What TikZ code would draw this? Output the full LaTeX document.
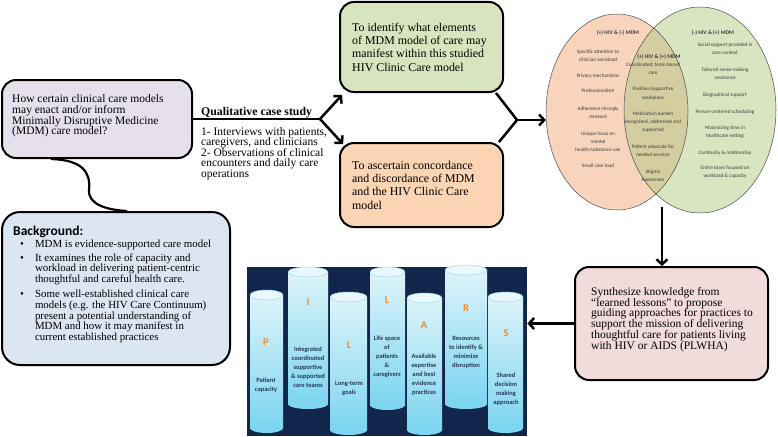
\documentclass[tikz,border=0pt]{standalone}
\usepackage{fontspec}
\setmainfont{Liberation Serif}
\newfontfamily\calib{Carlito}
\usetikzlibrary{arrows.meta,calc,shapes.geometric}
\definecolor{qfill}{HTML}{E5E0EC}
\definecolor{bgfill}{HTML}{DCE6F2}
\definecolor{gfill}{HTML}{D7E4BD}
\definecolor{ofill}{HTML}{FBD4B4}
\definecolor{sfill}{HTML}{F2DCDB}
\definecolor{vleft}{HTML}{F8D4BC}
\definecolor{vright}{HTML}{D8E5C0}
\definecolor{vmid}{HTML}{D3CDA0}
\definecolor{vtext}{HTML}{3C3C3C}
\definecolor{navy}{HTML}{11264A}
\definecolor{piltop}{HTML}{DDF4FA}
\definecolor{pilbot}{HTML}{7DD5EF}
\definecolor{pilcap}{HTML}{E9F8FC}
\definecolor{piledge}{HTML}{9ED8EA}
\definecolor{pilletter}{HTML}{EE8E2C}
\definecolor{piltext}{HTML}{243A57}
\begin{document}
\begin{tikzpicture}[x=1pt,y=-1pt,
  box/.style={draw=black, line width=2pt, rounded corners=14pt, inner sep=0pt},
  txt/.style={anchor=west, align=left, inner sep=0pt, font=\fontsize{11.5}{10.8}\selectfont},
  gtxt/.style={anchor=west, align=left, inner sep=0pt, font=\fontsize{11.9}{13.3}\selectfont},
  conn/.style={line width=2.5pt},
  arr/.style={line width=2.5pt, -{Straight Barb[length=5pt,width=11pt]}},
  vt/.style={align=center, inner sep=0pt, text=vtext, font=\calib\fontsize{5.2}{8.3}\selectfont},
  vh/.style={align=center, inner sep=0pt, text=vtext, font=\calib\bfseries\fontsize{5.6}{8.3}\selectfont},
  plet/.style={inner sep=0pt, text=pilletter, font=\calib\bfseries\fontsize{10.5}{11}\selectfont},
  ptxt/.style={align=center, inner sep=0pt, text=piltext, font=\calib\bfseries\fontsize{6.5}{9}\selectfont},
]
\useasboundingbox (0,0) rectangle (778,436);

% ---------- left boxes ----------
\node[box, fill=qfill, minimum width=190, minimum height=78] (q) at (97,119) {};
\node[txt] (qt) at ($(q.west)+(11,-3)$) {How certain clinical care models\\may enact and/or inform\\Minimally Disruptive Medicine\\(MDM) care model?};

\node[box, rounded corners=18pt, fill=bgfill, minimum width=228, minimum height=153] (bg) at (116,288.5) {};
\node[anchor=north west, inner sep=0pt, font=\fontsize{10.9}{10.5}\selectfont] (bgt) at (13,226) {%
\renewcommand\arraystretch{1}%
\begin{tabular}{@{\hspace{7pt}}l@{\hspace{11pt}}l@{}}
\multicolumn{2}{@{}l}{\calib\bfseries\fontsize{13.5}{14}\selectfont Background:}\\[1pt]
\textbullet & MDM is evidence-supported care model\\[3pt]
\textbullet & It examines the role of capacity and\\
 & workload in delivering patient-centric\\
 & thoughtful and careful health care.\\[4pt]
\textbullet & Some well-established clinical care\\
 & models (e.g. the HIV Care Continuum)\\
 & present a potential understanding of\\
 & MDM and how it may manifest in\\
 & current established practices
\end{tabular}};

\draw[line width=2.2pt] ($(q.south west)+(50,0)$) .. controls (82,160) and (91,172) .. (89,190)
  .. controls (88,205) and (108,210) .. ($(bg.north west)+(126,0)$);

% ---------- qualitative case study ----------
\coordinate (fork) at (320,119);
\node[anchor=base west, inner sep=0pt, font=\bfseries\fontsize{11.8}{12}\selectfont] (qual) at (201,115) {Qualitative case study};
\node[anchor=north west, align=left, inner sep=0pt, font=\fontsize{11.5}{10.6}\selectfont] (qualt) at (201,127) {1- Interviews with patients,\\caregivers, and clinicians\\2- Observations of clinical\\encounters and daily care\\operations};
\draw[conn] (q.east) -- (fork);

% ---------- aims ----------
\node[box, fill=gfill, minimum width=163, minimum height=90] (g) at (421.5,47) {};
\node[gtxt] (gt) at ($(g.west)+(13,0)$) {To identify what elements\\of MDM model of care may\\manifest within this studied\\HIV Clinic Care model};
\node[box, fill=ofill, minimum width=163, minimum height=84] (o) at (421.5,185) {};
\node[gtxt] (ot) at ($(o.west)+(13,0)$) {To ascertain concordance\\and discordance of MDM\\and the HIV Clinic Care\\model};

\draw[arr] (fork) -- ($(g.south west)+(3,2)$);
\draw[arr] (fork) -- ($(o.north west)+(4,2)$);

% ---------- Venn ----------
\node[ellipse, fill=vleft, minimum width=142, minimum height=196, inner sep=0pt] (vl) at (617,112) {};
\node[ellipse, fill=vright, minimum width=152, minimum height=206, inner sep=0pt] (vr) at (700,110) {};
\begin{scope}
  \clip (617,112) ellipse [x radius=71, y radius=98];
  \fill[vmid] (700,110) ellipse [x radius=76, y radius=103];
\end{scope}
\draw[black!70, line width=0.5pt] (617,112) ellipse [x radius=71, y radius=98];
\draw[black!70, line width=0.5pt] (700,110) ellipse [x radius=76, y radius=103];

\node[vh] (h1) at (618,33) {(+) HIV \& (-) MDM};
\node[vt] (l1) at (598,56) {Specific attention to\\clinician workload};
\node[vt] (l2) at (598,76) {Privacy mechanisms};
\node[vt] (l3) at (598,91) {Professionalism};
\node[vt] (l4) at (598,113) {Adherence strongly\\stressed};
\node[vt] (l5) at (598,142) {Unique focus on\\mental\\health/substance use};
\node[vt] (l6) at (598,166) {Small case load};

\node[vh] (h2) at (659,57) {(+) HIV \& (+) MDM};
\node[vt] (m1) at (653,69) {Coordinated, team-based\\care};
\node[vt] (m2) at (653,93.5) {Positive/supportive\\workplace};
\node[vt] (m3) at (653,122) {Medication burden\\recognized, addressed and\\supported};
\node[vt] (m4) at (653,151) {Patient advocate for\\needed services};
\node[vt] (m5) at (653,176) {Stigma\\Awareness};

\node[vh] (h3) at (713,33) {(-) HIV \& (+) MDM};
\node[vt] (r1) at (725,49) {Social support provided in\\care context};
\node[vt] (r2) at (725,74) {Tailored sense-making\\assistance};
\node[vt] (r3) at (725,95) {Biographical support};
\node[vt] (r4) at (725,112) {Person-centered scheduling};
\node[vt] (r5) at (725,132) {Maximizing time in\\healthcare setting};
\node[vt] (r6) at (725,153) {Continuity \& relationship};
\node[vt] (r7) at (725,172) {Entire team focused on\\workload \& capacity};

\coordinate (jn) at (517,120);
\draw[conn, line join=miter] ($(g.south east)+(-8,0)$) -- (jn) -- ($(o.north east)+(-5,0)$);
\draw[arr] (jn) -- (jn -| vl.west);

% ---------- synthesis ----------
\node[box, fill=sfill, minimum width=193, minimum height=113] (s) at (671.5,323.5) {};
\node[txt] (st) at ($(s.west)+(17,-4)$) {Synthesize knowledge from\\“learned lessons” to propose\\guiding approaches for practices to\\support the mission of delivering\\thoughtful care for patients living\\with HIV or AIDS (PLWHA)};
\coordinate (vb) at (662,207);
\draw[arr] (vb) -- (vb |- s.north);

% ---------- pillars ----------
\node[fill=navy, minimum width=280, minimum height=169, inner sep=0pt, anchor=north west] (pil) at (247,267) {};
\foreach \xl/\xr/\yt/\yb in {250/283/295/428, 288/328/272/404, 330/367/297/430, 370/405/272/405, 407/442/298/430, 445/487/270/404, 488/523/297/428}{
  \fill[top color=piltop, bottom color=pilbot] (\xl,\yt) rectangle (\xr,\yb);
  \fill[pilbot] ({(\xl+\xr)/2},\yb) ellipse [x radius={(\xr-\xl)/2}, y radius=5];
  \fill[pilcap, draw=piledge, line width=0.5pt] ({(\xl+\xr)/2},\yt) ellipse [x radius={(\xr-\xl)/2}, y radius=5];
}
\node[plet] (pP) at (266,342) {P};
\node[plet] (pI) at (308,302) {I};
\node[plet] (pL) at (349,345) {L};
\node[plet] (pL2) at (387,300) {L};
\node[plet] (pA) at (424,325) {A};
\node[plet] (pR) at (466,308) {R};
\node[plet] (pS) at (506,333) {S};
\node[ptxt] (tP) at (266,385.5) {Patient\\capacity};
\node[ptxt] (tI) at (308,367) {Integrated\\coordinated\\supportive\\\& supported\\care teams};
\node[ptxt] (tL) at (349,388.5) {Long-term\\goals};
\node[ptxt] (tL2) at (387,357) {Life space\\of\\patients\\\&\\caregivers};
\node[ptxt] (tA) at (424,374.5) {Available\\expertise\\and best\\evidence\\practices};
\node[ptxt] (tR) at (466,352.5) {Resources\\to identify \&\\minimize\\disruption};
\node[ptxt] (tS) at (506,389) {Shared\\decision\\making\\approach};

\draw[arr] (s.west) -- (s.west -| pil.east);
\end{tikzpicture}
\end{document}
